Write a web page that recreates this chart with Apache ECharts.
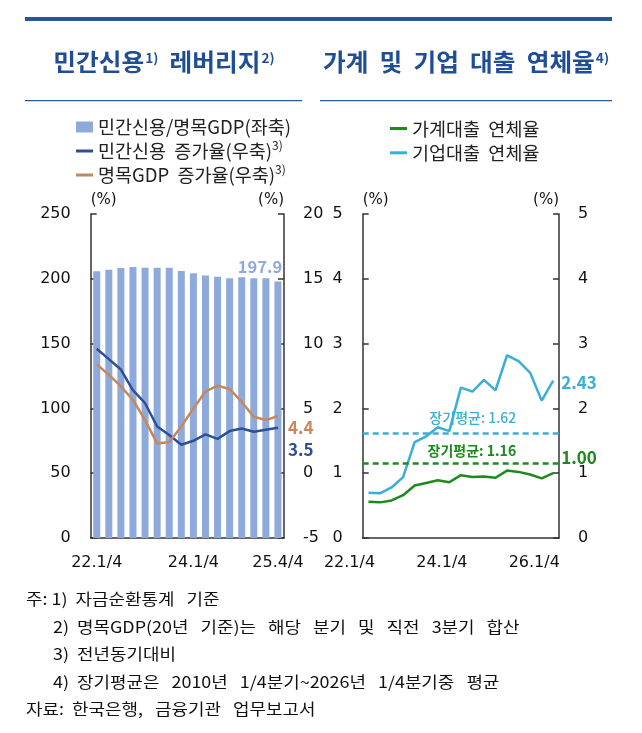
<!DOCTYPE html>
<html>
<head>
<meta charset="utf-8">
<script src="https://cdn.jsdelivr.net/npm/echarts@6/dist/echarts.min.js"></script>
<style>
html,body{margin:0;padding:0;background:#fff;}
#c{width:642px;height:733px;}
</style>
</head>
<body>
<div id="c"></div>
<script>
// ---- data ----
const leftCategories = ['22.1/4','22.2/4','22.3/4','22.4/4','23.1/4','23.2/4','23.3/4','23.4/4',
  '24.1/4','24.2/4','24.3/4','24.4/4','25.1/4','25.2/4','25.3/4','25.4/4'];
const rightCategories = ['22.1/4','22.2/4','22.3/4','22.4/4','23.1/4','23.2/4','23.3/4','23.4/4',
  '24.1/4','24.2/4','24.3/4','24.4/4','25.1/4','25.2/4','25.3/4','25.4/4','26.1/4'];
const creditToGdp = [205.8, 207.0, 208.4, 209.2, 208.5, 208.5, 208.6, 206.0, 204.2, 202.6, 201.5, 200.5, 201.1, 200.5, 200.5, 197.9];
const creditGrowth = [9.6, 8.8, 8.0, 6.4, 5.4, 3.6, 2.95, 2.2, 2.5, 3.0, 2.65, 3.25, 3.45, 3.2, 3.35, 3.5];
const gdpGrowth = [8.4, 7.6, 6.7, 5.65, 4.1, 2.3, 2.4, 3.6, 5.0, 6.3, 6.75, 6.5, 5.5, 4.35, 4.1, 4.4];
const householdDelinq = [0.56, 0.55, 0.58, 0.66, 0.81, 0.85, 0.89, 0.86, 0.97, 0.94, 0.95, 0.93, 1.04, 1.02, 0.98, 0.92, 1.00];
const corporateDelinq = [0.70, 0.69, 0.78, 0.94, 1.48, 1.57, 1.71, 1.65, 2.32, 2.26, 2.44, 2.28, 2.82, 2.73, 2.55, 2.12, 2.43];
const householdAvg = 1.16;
const corporateAvg = 1.62;
const leftAxisTicks = [0, 250, 50];
const leftRightAxisTicks = [-5, 20, 5];
const rightAxisTicks = [0, 5, 1];

const FONT = '"Noto Sans CJK KR", "Noto Sans", sans-serif';
const NUMFONT = '"DejaVu Sans", sans-serif';
const C_BAR = '#8eaadb', C_NAVY = '#2f4f94', C_ORANGE = '#c8875a', C_GREEN = '#1d8a1d', C_CYAN = '#3aafd6';
const C_TITLE = '#1f4e96', AX = '#333';
const wide = (s, k) => s.split(' ').join(' '.repeat(k));
const LINE_ICON = 'path://M0,0H17V3H0Z';

const chart = echarts.init(document.getElementById('c'));

function yAx(gridIdx, ticks, pos, nameAlign) {
  return {
    type: 'value', gridIndex: gridIdx, position: pos,
    min: ticks[0], max: ticks[1], interval: ticks[2],
    name: '(%)', nameLocation: 'end', nameGap: 6,
    nameTextStyle: {fontFamily: NUMFONT, fontSize: 15, color: '#111', align: nameAlign},
    axisLine: {show: true, lineStyle: {color: AX, width: 1.5}},
    axisTick: {show: true, inside: true, length: 6, lineStyle: {color: AX, width: 1.5}},
    axisLabel: {fontFamily: NUMFONT, fontSize: 16, color: '#111', margin: pos === 'left' ? 20 : 19},
    splitLine: {show: false}
  };
}

function note(x, y, num, txt) {
  return {type: 'text', x: x, y: y, scaleX: 1.12,
    style: {text: num + wide(txt, 3), fontFamily: FONT, fontSize: 16, fill: '#111', verticalAlign: 'middle'}};
}

const titleRich = {
  t: {fontFamily: FONT, fontSize: 23.5, fontWeight: 'bold', fill: C_TITLE, lineHeight: 30},
  s: {fontFamily: FONT, fontSize: 13, fontWeight: 'bold', fill: C_TITLE, verticalAlign: 'top', lineHeight: 30, padding: [5, 0, 0, 1]}
};

const option = {
  animation: false,
  grid: [
    {left: 90.7, right: 358, top: 214, bottom: 195},
    {left: 362.7, right: 83, top: 214, bottom: 195}
  ],
  xAxis: [
    {type: 'category', gridIndex: 0, data: leftCategories,
     axisLine: {lineStyle: {color: AX, width: 1.5}},
     axisTick: {inside: true, length: 6, lineStyle: {color: AX, width: 1.5},
       interval: (i) => i > 0 && i % 4 === 0},
     axisLabel: {fontFamily: NUMFONT, fontSize: 16, color: '#111', margin: 17,
       interval: (i) => i === 0 || i === 8 || i === 15}},
    {type: 'category', gridIndex: 1, data: rightCategories,
     axisLine: {lineStyle: {color: AX, width: 1.5}},
     axisTick: {inside: true, length: 6, lineStyle: {color: AX, width: 1.5},
       interval: (i) => i > 0 && i % 4 === 0},
     axisLabel: {fontFamily: NUMFONT, fontSize: 16, color: '#111', margin: 17, padding: [0, 38, 0, 0],
       interval: (i) => i % 8 === 0}}
  ],
  yAxis: [
    yAx(0, leftAxisTicks, 'left', 'left'),
    yAx(0, leftRightAxisTicks, 'right', 'right'),
    yAx(1, rightAxisTicks, 'left', 'left'),
    yAx(1, rightAxisTicks, 'right', 'right')
  ],
  legend: [
    {orient: 'vertical', left: 71, top: 110, itemWidth: 17, itemHeight: 11, itemGap: 0,
     textStyle: {fontFamily: FONT, fontSize: 18.5, color: '#222', lineHeight: 24,
       rich: {sup: {fontFamily: FONT, fontSize: 12, color: '#222', verticalAlign: 'top', lineHeight: 24}}},
     formatter: (n) => n.indexOf('우축') >= 0 ? wide(n, 2) + '{sup|3)}' : wide(n, 2),
     data: [{name: '민간신용/명목GDP(좌축)', icon: 'rect'},
            {name: '민간신용 증가율(우축)', icon: LINE_ICON}, {name: '명목GDP 증가율(우축)', icon: LINE_ICON}]},
    {orient: 'vertical', left: 385, top: 111.5, itemWidth: 17, itemHeight: 11, itemGap: 0.3,
     textStyle: {fontFamily: FONT, fontSize: 18.5, color: '#222', lineHeight: 24},
     formatter: (n) => wide(n, 2),
     data: [{name: '가계대출 연체율', icon: LINE_ICON}, {name: '기업대출 연체율', icon: LINE_ICON}]}
  ],
  series: [
    {name: '민간신용/명목GDP(좌축)', type: 'bar', xAxisIndex: 0, yAxisIndex: 0,
     data: creditToGdp.map((v, i) => i === creditToGdp.length - 1 ?
       {value: v, label: {show: true, position: 'top', formatter: (p) => p.value.toFixed(1),
         offset: [-18, -2], fontFamily: FONT, fontSize: 16.5, fontWeight: 'bold', color: C_BAR}} : v),
     barWidth: 7, itemStyle: {color: C_BAR}},
    {name: '민간신용 증가율(우축)', type: 'line', xAxisIndex: 0, yAxisIndex: 1, data: creditGrowth,
     symbol: 'none', lineStyle: {color: C_NAVY, width: 2.5}, itemStyle: {color: C_NAVY},
     endLabel: {show: true, formatter: (p) => p.value.toFixed(1), offset: [2, 22],
       fontFamily: FONT, fontSize: 17, fontWeight: 'bold', color: C_NAVY}},
    {name: '명목GDP 증가율(우축)', type: 'line', xAxisIndex: 0, yAxisIndex: 1, data: gdpGrowth,
     symbol: 'none', lineStyle: {color: C_ORANGE, width: 2.5}, itemStyle: {color: C_ORANGE},
     endLabel: {show: true, formatter: (p) => p.value.toFixed(1), offset: [2, 11],
       fontFamily: FONT, fontSize: 17, fontWeight: 'bold', color: C_ORANGE}},
    {name: '가계대출 연체율', type: 'line', xAxisIndex: 1, yAxisIndex: 2, data: householdDelinq,
     symbol: 'none', lineStyle: {color: C_GREEN, width: 2.5}, itemStyle: {color: C_GREEN},
     endLabel: {show: true, formatter: (p) => p.value.toFixed(2), offset: [0, -16],
       fontFamily: FONT, fontSize: 17, fontWeight: 'bold', color: C_GREEN},
     markLine: {silent: true, symbol: 'none',
       lineStyle: {color: C_GREEN, width: 2.5, type: [6, 4]},
       label: {show: true, position: 'insideMiddleTop', formatter: '장기평균: ' + householdAvg.toFixed(2),
         offset: [11, 0], fontFamily: FONT, fontSize: 14, fontWeight: 'bold', color: C_GREEN},
       data: [{yAxis: householdAvg}]}},
    {name: '기업대출 연체율', type: 'line', xAxisIndex: 1, yAxisIndex: 2, data: corporateDelinq,
     symbol: 'none', lineStyle: {color: C_CYAN, width: 2.5}, itemStyle: {color: C_CYAN},
     endLabel: {show: true, formatter: (p) => p.value.toFixed(2), offset: [0, 2],
       fontFamily: FONT, fontSize: 17, fontWeight: 'bold', color: C_CYAN},
     markLine: {silent: true, symbol: 'none',
       lineStyle: {color: C_CYAN, width: 2.5, type: [6, 4]},
       label: {show: true, position: 'insideMiddleTop', formatter: '장기평균: ' + corporateAvg.toFixed(2),
         offset: [12, -3], fontFamily: FONT, fontSize: 14, fontWeight: 500, color: C_CYAN},
       data: [{yAxis: corporateAvg}]}}
  ],
  graphic: [
    {type: 'rect', shape: {x: 25, y: 17, width: 587, height: 4}, style: {fill: '#2357a0'}},
    {type: 'rect', shape: {x: 25, y: 100, width: 277, height: 1.3}, style: {fill: '#2a5a9c'}},
    {type: 'rect', shape: {x: 320, y: 100, width: 292, height: 1.3}, style: {fill: '#2a5a9c'}},
    {type: 'text', x: 164, y: 62, scaleX: 1.05, style: {
      text: '{t|민간신용}{s|1)}{t|  레버리지}{s|2)}', align: 'center', verticalAlign: 'middle', rich: titleRich}},
    {type: 'text', x: 466, y: 62, scaleX: 1.05, style: {
      text: '{t|가계  및  기업  대출  연체율}{s|4)}', align: 'center', verticalAlign: 'middle', rich: titleRich}},
    note(26, 599, '주: 1)  ', '자금순환통계 기준'),
    note(53, 626.5, '2)  ', '명목GDP(20년 기준)는 해당 분기 및 직전 3분기 합산'),
    note(53, 654, '3)  ', '전년동기대비'),
    note(53, 681.5, '4)  ', '장기평균은 2010년 1/4분기~2026년 1/4분기중 평균'),
    note(26, 708.5, '자료:  ', '한국은행, 금융기관 업무보고서')
  ]
};
chart.setOption(option);
</script>
</body>
</html>
